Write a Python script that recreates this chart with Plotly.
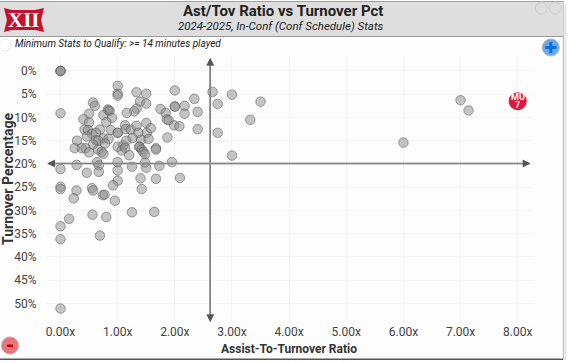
import plotly.graph_objects as go

ast_tov = [0,0,0,1.00,1.00,1.00,1.33,1.50,1.39,1.50,1.33,1.29,1.16,0.57,0.60,0,0.83,0.84,0.86,0.75,0.90,0.80,0.50,0.40,0.50,
0.42,0.48,0.69,0.55,0.62,0.46,0.88,1.00,1.00,1.13,1.14,1.23,1.33,1.36,1.50,1.51,1.26,1.41,1.58,0.29,0.25,0.37,0.44,0.50,
0.62,0.75,0.84,0.66,0.78,0.57,0.66,0.72,0.75,1.00,1.10,1.15,1.07,1.20,1.38,1.38,1.42,1.45,1.48,1.67,1.67,1.13,1.54,
0.64,0.67,0.28,0,1.00,1.00,0.67,0.46,1.25,1.48,1.50,1.73,1.95,1.40,1.67,2.09,1.00,0.92,1.42,0,0,0.28,0.23,0.55,0.57,0.74,0.77,0.95,
1.25,1.64,0.56,0.80,0.15,0,0,0.69,0,2.00,2.34,2.66,3.00,2.75,2.00,2.00,2.17,2.17,2.40,1.75,1.84,1.86,1.89,1.99,2.08,2.40,2.75,3.32,1.87,3.00,3.50,6.00,7.00,7.14]
tov_pct = [0,0,0,3.2,4.9,5.3,4.6,4.9,6.6,7.0,8.1,8.7,9.0,6.8,7.5,9.1,8.3,8.5,8.6,9.5,10.1,11.0,9.2,10.4,11.1,
12.6,12.7,12.6,13.5,13.3,14.1,12.7,13.3,13.3,11.7,12.5,12.6,11.8,13.3,11.2,13.3,14.4,14.8,12.3,15.0,16.6,16.6,16.6,17.5,
14.9,14.5,14.6,15.0,15.6,15.8,16.9,17.4,17.8,16.3,16.0,15.0,17.1,18.1,16.3,16.3,16.9,17.4,17.9,16.6,16.9,16.5,14.6,
19.6,20.3,20.2,21.1,19.6,21.4,21.7,21.9,20.6,19.7,20.8,20.4,19.6,23.1,23.2,23.0,23.6,24.6,25.4,24.9,25.4,25.7,27.4,25.2,25.7,26.7,26.6,27.9,
30.4,30.3,30.9,31.4,31.8,33.4,36.2,35.4,51.1,4.2,6.0,4.5,5.1,7.1,7.6,7.7,7.5,9.2,8.8,8.2,9.0,10.4,10.6,11.7,11.9,12.5,13.3,10.5,14.3,18.2,6.6,15.4,6.3,8.5]
hero_x = [8.00]
hero_y = [6.5]
hero_team = "MU"
hero_number = "7"
median_x = 2.62
median_y = 19.9
x_ticks = [0,1,2,3,4,5,6,7,8]
x_tick_labels = ["0.00x","1.00x","2.00x","3.00x","4.00x","5.00x","6.00x","7.00x","8.00x"]
y_ticks = [0,5,10,15,20,25,30,35,40,45,50]
y_tick_labels = ["0%","5%","10%","15%","20%","25%","30%","35%","40%","45%","50%"]

W, H = 568, 363
L, R, T, B = 46, 531.7, 57, 323
def X(p): return (p - L) / (R - L)
def Y(p): return (B - p) / (B - T)
FONT = "Roboto"

def rect(x0, y0, x1, y1, fill, line=None, lw=0, layer="below"):
    return dict(type="rect", xref="paper", yref="paper", x0=X(x0), y0=Y(y0), x1=X(x1), y1=Y(y1),
                fillcolor=fill, line=dict(color=line or fill, width=lw), layer=layer)
def circ(cx, cy, r, fill, line, lw=1, layer="above"):
    return dict(type="circle", xref="paper", yref="paper", x0=X(cx-r), y0=Y(cy-r), x1=X(cx+r), y1=Y(cy+r),
                fillcolor=fill, line=dict(color=line, width=lw), layer=layer)
def poly(points, fill):
    d = "M" + " L".join(f"{X(a):.5f},{Y(b):.5f}" for a, b in points) + " Z"
    return dict(type="path", xref="paper", yref="paper", path=d, fillcolor=fill, line=dict(width=0), layer="above")

shapes = [
    rect(564, 4, 566, 360, "#e4e4e4"),
    rect(0, 1, 563, 359, "#fdfdfd"),
    rect(0, 358.5, 563, 360, "#555555"),
    rect(562.5, 1, 563.5, 359, "#b5b5b5"),
    rect(0, 1, 563, 36, "#dedede"),
    rect(0, 1, 563, 2, "#a0a0a0"),
    rect(0, 36, 563, 37, "#9a9a9a"),
    poly([(4,8),(12,10),(35,10),(44,8),(41,20),(44,32),(35,30),(12,30),(4,32),(7,20)], "#c8102e"),
    circ(541, 8, 6, "rgba(0,0,0,0)", "#cfcfcf", 1),
    circ(555, 8, 6, "rgba(0,0,0,0)", "#cfcfcf", 1),
    circ(5, 45, 6, "#ffffff", "#ececec", 1),
    circ(550.5, 47.5, 8.5, "#6fa8e6", "#9dbbdc", 1),
    rect(545, 46, 556, 49, "#0a6fe0", layer="above"),
    rect(549, 42, 552, 53, "#0a6fe0", layer="above"),
    circ(10, 345.5, 8.5, "#e8757d", "#d9a0a4", 1),
    rect(7, 344.5, 13, 347, "#cc0000", layer="above"),
]

def text(px, py, s, size, color="#222222", anchor="center", bold=False, italic=False, family=FONT, angle=0):
    t = f"<b>{s}</b>" if bold else s
    t = f"<i>{t}</i>" if italic else t
    return dict(xref="paper", yref="paper", x=X(px), y=Y(py), text=t, showarrow=False, xanchor=anchor, yanchor="middle",
                textangle=angle, font=dict(family=family, size=size, color=color))

def arrow(x, y, ax, ay, color, width=1.5):
    return dict(xref="x", yref="y", axref="x", ayref="y", x=x, y=y, ax=ax, ay=ay, text="", showarrow=True,
                arrowhead=2, arrowside="end", arrowsize=1, arrowwidth=width, arrowcolor=color)

def hero_text(s, shift):
    return dict(xref="x", yref="y", x=hero_x[0], y=hero_y[0], text=f"<b>{s}</b>", showarrow=False, yshift=shift,
                xanchor="center", yanchor="middle", borderpad=0, font=dict(family=FONT, size=9, color="#ffffff"))

annotations = [
    text(283, 11, "Ast/Tov Ratio vs Turnover Pct", 15, bold=True),
    text(281, 26, "2024-2025, In-Conf (Conf Schedule) Stats", 11.5, italic=True),
    text(13, 43, "Minimum Stats to Qualify: &gt;= 14 minutes played", 10, italic=True, anchor="left"),
    text(24, 20, "XII", 21, color="#ffffff", bold=True, family="Liberation Serif"),
    text(289, 349, "Assist-To-Turnover Ratio", 12, color="#333333", bold=True),
    text(8, 179, "Turnover Percentage", 14, color="#333333", bold=True, angle=-90),
    arrow(median_x, 54.0, median_x, -2.8, "#808080"),
    arrow(median_x, -2.8, median_x, 54.0, "#808080"),
    arrow(8.22, median_y, -0.23, median_y, "#8a8a8a"),
    arrow(-0.23, median_y, 8.22, median_y, "#8a8a8a"),
    arrow(median_x, 54.0, median_x, 52.5, "#555555"),
    arrow(median_x, -2.8, median_x, -1.3, "#555555"),
    arrow(8.22, median_y, 8.1, median_y, "#555555"),
    arrow(-0.23, median_y, -0.11, median_y, "#555555"),
    hero_text(hero_team, 4),
    hero_text(hero_number, -4),
]

fig = go.Figure()
fig.add_trace(go.Scatter(x=ast_tov, y=tov_pct, mode="markers", cliponaxis=False, hoverinfo="skip",
    marker=dict(size=9.5, color="rgba(140,140,140,0.5)", line=dict(color="rgba(90,90,90,0.55)", width=1))))
fig.add_trace(go.Scatter(x=hero_x, y=hero_y, mode="markers", cliponaxis=False, hoverinfo="skip",
    marker=dict(size=18, color="#e3173e", line=dict(width=0))))

fig.update_layout(
    width=W, height=H, autosize=False, showlegend=False,
    margin=dict(l=L, r=W-R, t=T, b=H-B, autoexpand=False),
    paper_bgcolor="#ffffff", plot_bgcolor="rgba(0,0,0,0)",
    font=dict(family=FONT, size=12, color="#444444"),
    shapes=shapes, annotations=annotations,
    xaxis=dict(range=[-0.254, 8.25], tickvals=x_ticks, ticktext=x_tick_labels, showgrid=True,
               gridcolor="#f4f4f4", gridwidth=1, zeroline=False, showline=False, ticks="",
               tickfont=dict(family=FONT, size=12, color="#444444")),
    yaxis=dict(range=[54.2, -3], tickvals=y_ticks, ticktext=y_tick_labels, showgrid=True, gridcolor="#f4f4f4", gridwidth=1,
               zeroline=False, showline=False, ticks="outside", ticklen=6, tickcolor="rgba(0,0,0,0)",
               tickfont=dict(family=FONT, size=12, color="#444444")),
)
fig.write_html("out.html", config=dict(displayModeBar=False),
               post_script="document.body.style.margin='0';document.documentElement.style.overflow='hidden';")
